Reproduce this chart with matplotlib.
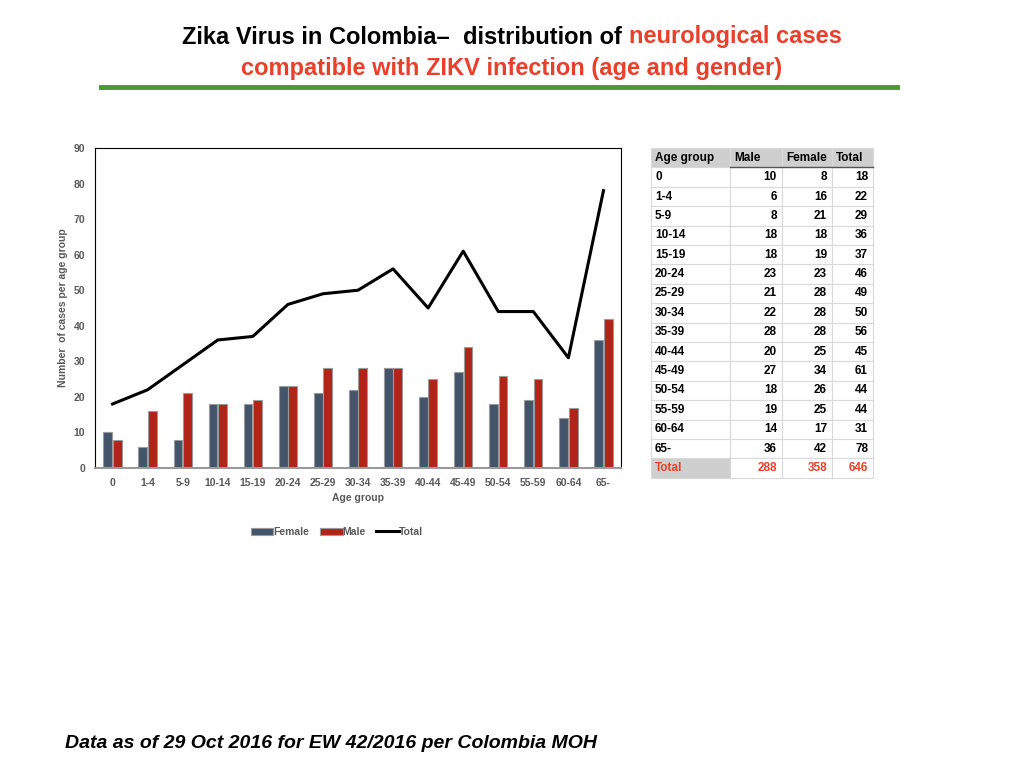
import numpy as np
import matplotlib
matplotlib.use("Agg")
import matplotlib.pyplot as plt
from matplotlib.patches import Rectangle

# data
age_groups = ["0", "1-4", "5-9", "10-14", "15-19", "20-24", "25-29", "30-34",
              "35-39", "40-44", "45-49", "50-54", "55-59", "60-64", "65-"]
male = [10, 6, 8, 18, 18, 23, 21, 22, 28, 20, 27, 18, 19, 14, 36]
female = [8, 16, 21, 18, 19, 23, 28, 28, 28, 25, 34, 26, 25, 17, 42]
total = [18, 22, 29, 36, 37, 46, 49, 50, 56, 45, 61, 44, 44, 31, 78]
totals_row = ["Total", 288, 358, 646]
table_header = ["Age group", "Male", "Female", "Total"]
yticks = list(range(0, 91, 10))

W, H = 1024, 768
RED = "#e8402a"
DARK = "#44546a"
BARRED = "#b22318"
GRAY = "#595959"

plt.rcParams['font.family'] = ['Liberation Sans', 'DejaVu Sans']

fig = plt.figure(figsize=(W / 100, H / 100), dpi=100)

def px_ax(l, t, r, b):
    return fig.add_axes([l / W, 1 - b / H, (r - l) / W, (b - t) / H])

# ---- title
narrow = ['Liberation Sans Narrow', 'Liberation Sans', 'DejaVu Sans']
t1 = fig.text(0.5, 1 - 37 / H, "Zika Virus in Colombia\u2013  distribution of neurological cases",
              ha="center", va="center", fontsize=17, fontweight="bold", family=narrow, alpha=0)
fig.canvas.draw()
bb = t1.get_window_extent()
x0 = bb.x0 / W
a = fig.text(x0, 1 - 37 / H, "Zika Virus in Colombia\u2013  distribution of ",
             ha="left", va="center", fontsize=17, fontweight="bold", family=narrow, color="black")
fig.canvas.draw()
ab = a.get_window_extent()
fig.text(ab.x1 / W, 1 - 37 / H, "neurological cases", ha="left", va="center",
         fontsize=17, fontweight="bold", family=narrow, color=RED)
fig.text(0.5, 1 - 68 / H, "compatible with ZIKV infection (age and gender)",
         ha="center", va="center", fontsize=17, fontweight="bold", family=narrow, color=RED)
fig.add_artist(plt.Line2D([101 / W, 897 / W], [1 - 87 / H, 1 - 87 / H],
                          color="#4a9a2f", lw=3.5))

# ---- chart
ax = px_ax(95, 148, 621, 468)
x = np.arange(len(age_groups))
bw = 0.25
b1 = ax.bar(x - bw / 2 - 0.01, male, bw, color=DARK, edgecolor="#9a9a9a", lw=0.8, label="Female", zorder=2)
b2 = ax.bar(x + bw / 2 + 0.01, female, bw, color=BARRED, edgecolor="#9a9a9a", lw=0.8, label="Male", zorder=2)
ln, = ax.plot(x, total, color="black", lw=2.2, label="Total", zorder=3)
ax.set_xlim(-0.5, len(age_groups) - 0.5)
ax.set_ylim(0, 90)
ax.set_yticks(yticks)
ax.set_xticks(x)
ax.set_xticklabels(age_groups)
ax.tick_params(length=0, labelsize=7.5, labelcolor=GRAY, pad=7)
for lab in ax.get_xticklabels() + ax.get_yticklabels():
    lab.set_fontweight("bold")
for s in ["top", "left", "right"]:
    ax.spines[s].set_color("black")
    ax.spines[s].set_linewidth(0.8)
ax.spines["bottom"].set_color("#9a9a9a")
ax.spines["bottom"].set_linewidth(1.5)
ax.set_xlabel("Age group", fontsize=7.5, color=GRAY, fontweight="bold", labelpad=4)
ax.set_ylabel("Number  of cases per age group", fontsize=7.5, color=GRAY, fontweight="bold", labelpad=4)
leg = ax.legend([b1, b2, ln], ["Female", "Male", "Total"], loc="upper center",
                bbox_to_anchor=(0.46, -0.155), ncol=3, frameon=False,
                fontsize=7.5, handlelength=2.2, handleheight=0.6, handletextpad=0.0,
                columnspacing=1.0)
for txt in leg.get_texts():
    txt.set_color(GRAY)
    txt.set_fontweight("bold")

# ---- table
tax = fig.add_axes([0, 0, 1, 1])
tax.set_xlim(0, W)
tax.set_ylim(H, 0)
tax.axis("off")
cols = [651, 730, 782, 832, 873]
top, rh = 148, 19.4
rows = [table_header] + [[g, m, f, t] for g, m, f, t in zip(age_groups, male, female, total)] + [totals_row]
for i, row in enumerate(rows):
    y0 = top + i * rh
    for j, val in enumerate(row):
        l, r = cols[j], cols[j + 1]
        fc = "white"
        if i == 0 or (i == len(rows) - 1 and j == 0):
            fc = "#cfcfcf"
        tax.add_patch(Rectangle((l, y0), r - l, rh, facecolor=fc, edgecolor="#d9d9d9", lw=0.8))
        color = RED if i == len(rows) - 1 else "black"
        if i == 0:
            tax.text(l + 4, y0 + rh / 2, val, ha="left", va="center", fontsize=8.5,
                     fontweight="bold", color="black")
        elif j == 0:
            tax.text(l + 4, y0 + rh / 2, str(val), ha="left", va="center", fontsize=8.5,
                     fontweight="bold", color=color)
        else:
            tax.text(r - 5, y0 + rh / 2, str(val), ha="right", va="center", fontsize=8.5,
                     fontweight="bold", color=color)
tax.plot([cols[1], cols[-1]], [top + rh, top + rh], color="#555555", lw=1)

# ---- footer
fig.text(65 / W, 1 - 744 / H, "Data as of 29 Oct 2016 for EW 42/2016 per Colombia MOH",
         ha="left", va="center", fontsize=14, fontweight="bold", style="italic")

fig.savefig("out.png", dpi=100)
